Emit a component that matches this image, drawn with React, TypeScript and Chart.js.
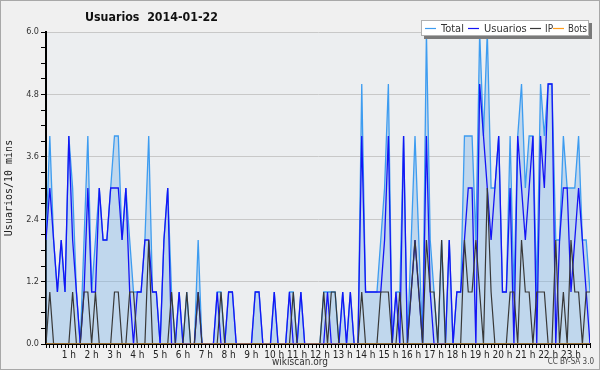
import React, { useEffect, useRef } from 'react';
import { Chart, registerables } from 'chart.js';

Chart.register(...registerables);

// 10-minute slots of the day (0 = 00:00, 143 = 23:50)
const SLOTS: number[] = [
  0, 1, 2, 3, 4, 5, 6, 7, 8, 9, 10, 11, 12, 13, 14, 15, 16, 17, 18, 19, 20, 21, 22, 23,
  24, 25, 26, 27, 28, 29, 30, 31, 32, 33, 34, 35, 36, 37, 38, 39, 40, 41, 42, 43, 44, 45, 46, 47,
  48, 49, 50, 51, 52, 53, 54, 55, 56, 57, 58, 59, 60, 61, 62, 63, 64, 65, 66, 67, 68, 69, 70, 71,
  72, 73, 74, 75, 76, 77, 78, 79, 80, 81, 82, 83, 84, 85, 86, 87, 88, 89, 90, 91, 92, 93, 94, 95,
  96, 97, 98, 99, 100, 101, 102, 103, 104, 105, 106, 107, 108, 109, 110, 111, 112, 113, 114, 115, 116, 117, 118, 119,
  120, 121, 122, 123, 124, 125, 126, 127, 128, 129, 130, 131, 132, 133, 134, 135, 136, 137, 138, 139, 140, 141, 142, 143,
];

const TOTAL: number[] = [
  2, 4, 2, 1, 2, 1, 4, 3, 1, 0, 2, 4, 1, 2, 3, 2, 2, 3, 4, 4, 2, 3, 2, 1,
  1, 1, 2, 4, 1, 1, 0, 2, 3, 1, 0, 1, 0, 1, 0, 0, 2, 0, 0, 0, 0, 1, 1, 0,
  1, 1, 0, 0, 0, 0, 0, 1, 1, 0, 0, 0, 1, 0, 0, 0, 1, 1, 0, 1, 0, 0, 0, 0,
  0, 1, 1, 1, 1, 0, 1, 0, 1, 0, 0, 5, 1, 1, 1, 1, 2, 3, 5, 0, 1, 1, 4, 0,
  2, 4, 2, 0, 6, 2, 1, 0, 2, 0, 2, 0, 1, 1, 4, 4, 4, 2, 6, 4, 6, 3, 3, 4,
  1, 1, 4, 1, 4, 5, 3, 4, 4, 1, 5, 4, 5, 5, 2, 2, 4, 3, 3, 3, 4, 2, 2, 1,
];

const USUARIOS: number[] = [
  2, 3, 2, 1, 2, 1, 4, 2, 1, 0, 1, 3, 1, 1, 3, 2, 2, 3, 3, 3, 2, 3, 1, 0,
  1, 1, 2, 2, 1, 1, 0, 2, 3, 0, 0, 1, 0, 0, 0, 0, 1, 0, 0, 0, 0, 1, 0, 0,
  1, 1, 0, 0, 0, 0, 0, 1, 1, 0, 0, 0, 1, 0, 0, 0, 1, 0, 0, 1, 0, 0, 0, 0,
  0, 0, 1, 0, 0, 0, 1, 0, 1, 0, 0, 4, 1, 1, 1, 1, 1, 2, 4, 0, 1, 0, 4, 0,
  1, 2, 1, 0, 4, 1, 0, 0, 0, 0, 2, 0, 1, 1, 2, 3, 3, 0, 5, 4, 3, 2, 3, 4,
  1, 1, 3, 0, 4, 3, 2, 3, 4, 0, 4, 3, 5, 5, 0, 2, 3, 3, 1, 2, 3, 2, 1, 0,
];

const IP: number[] = [
  0, 1, 0, 0, 0, 0, 0, 1, 0, 0, 1, 1, 0, 1, 0, 0, 0, 0, 1, 1, 0, 0, 1, 1,
  0, 0, 0, 2, 0, 0, 0, 0, 0, 1, 0, 0, 0, 1, 0, 0, 1, 0, 0, 0, 0, 0, 1, 0,
  0, 0, 0, 0, 0, 0, 0, 0, 0, 0, 0, 0, 0, 0, 0, 0, 0, 1, 0, 0, 0, 0, 0, 0,
  0, 1, 0, 1, 1, 0, 0, 0, 0, 0, 0, 1, 0, 0, 0, 0, 1, 1, 1, 0, 0, 1, 0, 0,
  1, 2, 1, 0, 2, 1, 1, 0, 2, 0, 0, 0, 0, 0, 2, 1, 1, 2, 1, 0, 3, 1, 0, 0,
  0, 0, 1, 1, 0, 2, 1, 1, 0, 1, 1, 1, 0, 0, 2, 0, 1, 0, 2, 1, 1, 0, 1, 1,
];

const BOTS: number[] = [
  0, 0, 0, 0, 0, 0, 0, 0, 0, 0, 0, 0, 0, 0, 0, 0, 0, 0, 0, 0, 0, 0, 0, 0,
  0, 0, 0, 0, 0, 0, 0, 0, 0, 0, 0, 0, 0, 0, 0, 0, 0, 0, 0, 0, 0, 0, 0, 0,
  0, 0, 0, 0, 0, 0, 0, 0, 0, 0, 0, 0, 0, 0, 0, 0, 0, 0, 0, 0, 0, 0, 0, 0,
  0, 0, 0, 0, 0, 0, 0, 0, 0, 0, 0, 0, 0, 0, 0, 0, 0, 0, 0, 0, 0, 0, 0, 0,
  0, 0, 0, 0, 0, 0, 0, 0, 0, 0, 0, 0, 0, 0, 0, 0, 0, 0, 0, 0, 0, 0, 0, 0,
  0, 0, 0, 0, 0, 0, 0, 0, 0, 0, 0, 0, 0, 0, 0, 0, 0, 0, 0, 0, 0, 0, 0, 0,
];

// y ticks every 0.3, labelled every 1.2
const Y_TICKS: number[] = [0, 0.3, 0.6, 0.9, 1.2, 1.5, 1.8, 2.1, 2.4, 2.7, 3.0, 3.3, 3.6, 3.9, 4.2, 4.5, 4.8, 5.1, 5.4, 5.7, 6.0];
const Y_LABELS: string[] = ['0.0', '1.2', '2.4', '3.6', '4.8', '6.0'];
const HOUR_LABELS: string[] = ['1 h', '2 h', '3 h', '4 h', '5 h', '6 h', '7 h', '8 h', '9 h', '10 h', '11 h', '12 h',
  '13 h', '14 h', '15 h', '16 h', '17 h', '18 h', '19 h', '20 h', '21 h', '22 h', '23 h'];

const TITLE = 'Usuarios  2014-01-22';
const Y_TITLE = 'Usuarios/10 mins';
const FOOTER = 'wikiscan.org';
const LICENSE = 'CC BY-SA 3.0';

const FONT = '"DejaVu Sans Condensed", "DejaVu Sans", sans-serif';

const COLORS = {
  total: '#3d9cf0',
  totalFill: 'rgba(120,180,232,0.38)',
  usuarios: '#1414f5',
  ip: '#383838',
  bots: '#ff9c1a',
};

// legend item layout (line start, text start, text max width)
const LEGEND_LINE_X: number[] = [425, 468, 530, 553];
const LEGEND_TEXT_X: number[] = [441, 484, 545, 568];
const LEGEND_TEXT_W: number[] = [25, 44, 8, 19];

const decorPlugin = {
  id: 'decor',
  beforeDraw(chart: any) {
    const { ctx, chartArea: a, width, height } = chart;
    ctx.save();
    ctx.fillStyle = '#f0f0f0';
    ctx.fillRect(0, 0, width, height);
    ctx.strokeStyle = '#a8a8a8';
    ctx.lineWidth = 1;
    ctx.strokeRect(0.5, 0.5, width - 1, height - 1);
    ctx.fillStyle = '#eceef0';
    ctx.fillRect(a.left, a.top, a.right - a.left, a.bottom - a.top);
    ctx.restore();
  },
  afterDraw(chart: any) {
    const { ctx, chartArea: a } = chart;
    ctx.save();
    // title
    ctx.fillStyle = '#111';
    ctx.font = 'bold 13px ' + FONT;
    ctx.textBaseline = 'middle';
    ctx.textAlign = 'left';
    ctx.fillText(TITLE, 85, 18, 133);

    // y axis title
    ctx.save();
    ctx.translate(9, (a.top + a.bottom) / 2);
    ctx.rotate(-Math.PI / 2);
    ctx.textAlign = 'center';
    ctx.font = '10px "DejaVu Sans Mono", monospace';
    ctx.fillStyle = '#222';
    ctx.fillText(Y_TITLE, 0, 0);
    ctx.restore();

    // footer
    ctx.font = '10px ' + FONT;
    ctx.fillStyle = '#333';
    ctx.textAlign = 'center';
    ctx.fillText(FOOTER, 300, 362);
    ctx.font = '8px ' + FONT;
    ctx.textAlign = 'right';
    ctx.fillStyle = '#444';
    ctx.fillText(LICENSE, 594, 362);

    // legend
    const bx = 421, by = 20, bw = 168, bh = 16;
    ctx.fillStyle = '#7a7a7a';
    ctx.fillRect(bx + 3, by + 3, bw, bh);
    ctx.fillStyle = '#ffffff';
    ctx.fillRect(bx, by, bw, bh);
    ctx.strokeStyle = '#b0b0b0';
    ctx.lineWidth = 1;
    ctx.strokeRect(bx + 0.5, by + 0.5, bw - 1, bh - 1);
    ctx.font = '11px ' + FONT;
    ctx.textAlign = 'left';
    const ly = by + bh / 2;
    chart.data.datasets.forEach((ds: any, i: number) => {
      ctx.strokeStyle = ds.borderColor;
      ctx.lineWidth = 1.2;
      ctx.beginPath();
      ctx.moveTo(LEGEND_LINE_X[i], ly + 0.5);
      ctx.lineTo(LEGEND_LINE_X[i] + 11, ly + 0.5);
      ctx.stroke();
      ctx.fillStyle = '#333';
      ctx.fillText(ds.label, LEGEND_TEXT_X[i], ly + 1, LEGEND_TEXT_W[i]);
    });
    ctx.restore();
  },
};

export default function App() {
  const ref = useRef<HTMLCanvasElement | null>(null);
  useEffect(() => {
    document.body.style.margin = '0';
    const canvas = ref.current!;
    const chart = new Chart(canvas, {
      type: 'line',
      data: {
        labels: SLOTS,
        datasets: [
          { label: 'Total', data: TOTAL, borderColor: COLORS.total, backgroundColor: COLORS.totalFill, fill: 'origin', borderWidth: 1.3, pointRadius: 0, order: 4 },
          { label: 'Usuarios', data: USUARIOS, borderColor: COLORS.usuarios, backgroundColor: COLORS.usuarios, fill: false, borderWidth: 1.3, pointRadius: 0, order: 3 },
          { label: 'IP', data: IP, borderColor: COLORS.ip, backgroundColor: COLORS.ip, fill: false, borderWidth: 1.2, pointRadius: 0, order: 2 },
          { label: 'Bots', data: BOTS, borderColor: COLORS.bots, backgroundColor: COLORS.bots, fill: false, borderWidth: 1.2, pointRadius: 0, order: 1 },
        ],
      },
      options: {
        responsive: false,
        animation: false,
        devicePixelRatio: 1,
        layout: { padding: { left: 0, top: 32, right: 10, bottom: 0 } },
        plugins: { legend: { display: false }, title: { display: false }, tooltip: { enabled: false } },
        elements: { line: { tension: 0 } },
        scales: {
          x: {
            type: 'linear',
            min: 0,
            max: 143,
            z: 1,
            afterBuildTicks: (s: any) => { s.ticks = SLOTS.map((v) => ({ value: v })); },
            afterFit: (s: any) => { s.height = 26; },
            ticks: {
              autoSkip: false,
              maxRotation: 0,
              padding: 1,
              color: '#222',
              font: { size: 10, family: FONT },
              callback: (v: any) => (v % 6 === 0 && v > 0 ? HOUR_LABELS[v / 6 - 1] : ''),
            },
            grid: { drawOnChartArea: false, tickLength: 4, tickColor: '#000', tickWidth: 1 },
            border: { color: '#000', width: 2 },
          },
          y: {
            type: 'linear',
            min: 0,
            max: 6,
            afterBuildTicks: (s: any) => { s.ticks = Y_TICKS.map((v) => ({ value: v })); },
            afterFit: (s: any) => { s.width = 46; },
            ticks: {
              autoSkip: false,
              padding: 2,
              color: '#333',
              font: { size: 9, family: FONT },
              callback: (_v: any, i: number) => (i % 4 === 0 ? Y_LABELS[i / 4] : ''),
            },
            grid: {
              color: (c: any) => (c.index % 4 === 0 && c.index > 0 ? '#c8c8c8' : 'rgba(0,0,0,0)'),
              lineWidth: 1,
              tickLength: 5,
              tickColor: '#000',
              tickWidth: 1,
            },
            border: { color: '#000', width: 2 },
          },
        },
      },
      plugins: [decorPlugin],
    });
    return () => chart.destroy();
  }, []);
  return (
    <div style={{ position: 'fixed', left: 0, top: 0, width: 600, height: 370 }}>
      <canvas ref={ref} width={600} height={370} style={{ width: 600, height: 370, display: 'block' }} />
    </div>
  );
}
